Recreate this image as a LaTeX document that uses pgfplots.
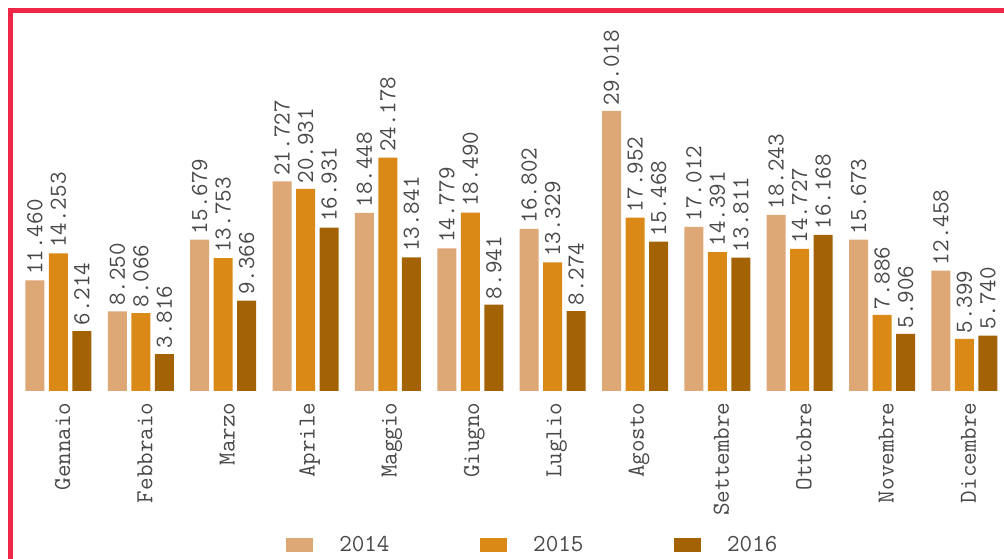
\documentclass[border=0pt]{standalone}
\usepackage{pgfplots}
\pgfplotsset{compat=1.18}
\definecolor{frame}{RGB}{238,39,71}
\definecolor{c2014}{RGB}{222,167,118}
\definecolor{c2015}{RGB}{219,137,22}
\definecolor{c2016}{RGB}{163,99,5}
\definecolor{txt}{RGB}{72,72,72}
\newcommand\lab{\ttfamily\fontsize{18.3}{20}\selectfont}
\begin{document}
\begin{tikzpicture}
  \path[use as bounding box] (0pt,0pt) rectangle (753pt,419.25pt);
  % red frame, top and left only
  \fill[frame] (6pt,409.5pt) rectangle (753pt,413.25pt);
  \fill[frame] (6pt,0pt) rectangle (9.75pt,413.25pt);
  \begin{axis}[
      at={(6.81pt,126pt)}, anchor=south west,
      x=61.77pt, y=7.24pt,
      xmin=-0.6, xmax=11.5, ymin=0, ymax=30,
      enlargelimits=false, clip=false,
      ybar=3.375pt, bar width=14.25pt,
      axis lines*=left,
      axis line style={draw=none},
      major tick length=0pt,
      ytick=\empty,
      xtick={0.05,1.05,2.05,3.05,4.05,5.05,6.05,7.05,8.05,9.05,10.05,11.05},
      xticklabels={Gennaio,Febbraio,Marzo,Aprile,Maggio,Giugno,Luglio,Agosto,Settembre,Ottobre,Novembre,Dicembre},
      x tick label style={rotate=90, anchor=east, font=\lab, text=txt, inner sep=8.5pt},
      point meta=explicit symbolic,
      nodes near coords,
      every node near coord/.append style={rotate=90, anchor=west, font=\lab, text=txt, inner sep=4pt},
      legend columns=3,
      legend image code/.code={\fill[#1] (0pt,-5.25pt) rectangle (20.25pt,5.25pt);},
      legend style={at={(0.2779,-0.5302)}, anchor=west, draw=none, fill=none,
        inner sep=0pt, font=\lab, text=txt, nodes={inner sep=0pt},
        /tikz/every odd column/.append style={column sep=19.5pt},
        /tikz/every even column/.append style={column sep=68pt}},
    ]
    \addplot[fill=c2014, draw=none] coordinates {
      (0,11.460)[11.460] (1,8.250)[8.250] (2,15.679)[15.679] (3,21.727)[21.727]
      (4,18.448)[18.448] (5,14.779)[14.779] (6,16.802)[16.802] (7,29.018)[29.018]
      (8,17.012)[17.012] (9,18.243)[18.243] (10,15.673)[15.673] (11,12.458)[12.458]};
    \addlegendentry{2014}
    \addplot[fill=c2015, draw=none] coordinates {
      (0,14.253)[14.253] (1,8.066)[8.066] (2,13.753)[13.753] (3,20.931)[20.931]
      (4,24.178)[24.178] (5,18.490)[18.490] (6,13.329)[13.329] (7,17.952)[17.952]
      (8,14.391)[14.391] (9,14.727)[14.727] (10,7.886)[7.886] (11,5.399)[5.399]};
    \addlegendentry{2015}
    \addplot[fill=c2016, draw=none] coordinates {
      (0,6.214)[6.214] (1,3.816)[3.816] (2,9.366)[9.366] (3,16.931)[16.931]
      (4,13.841)[13.841] (5,8.941)[8.941] (6,8.274)[8.274] (7,15.468)[15.468]
      (8,13.811)[13.811] (9,16.168)[16.168] (10,5.906)[5.906] (11,5.740)[5.740]};
    \addlegendentry{2016}
  \end{axis}
\end{tikzpicture}
\end{document}
